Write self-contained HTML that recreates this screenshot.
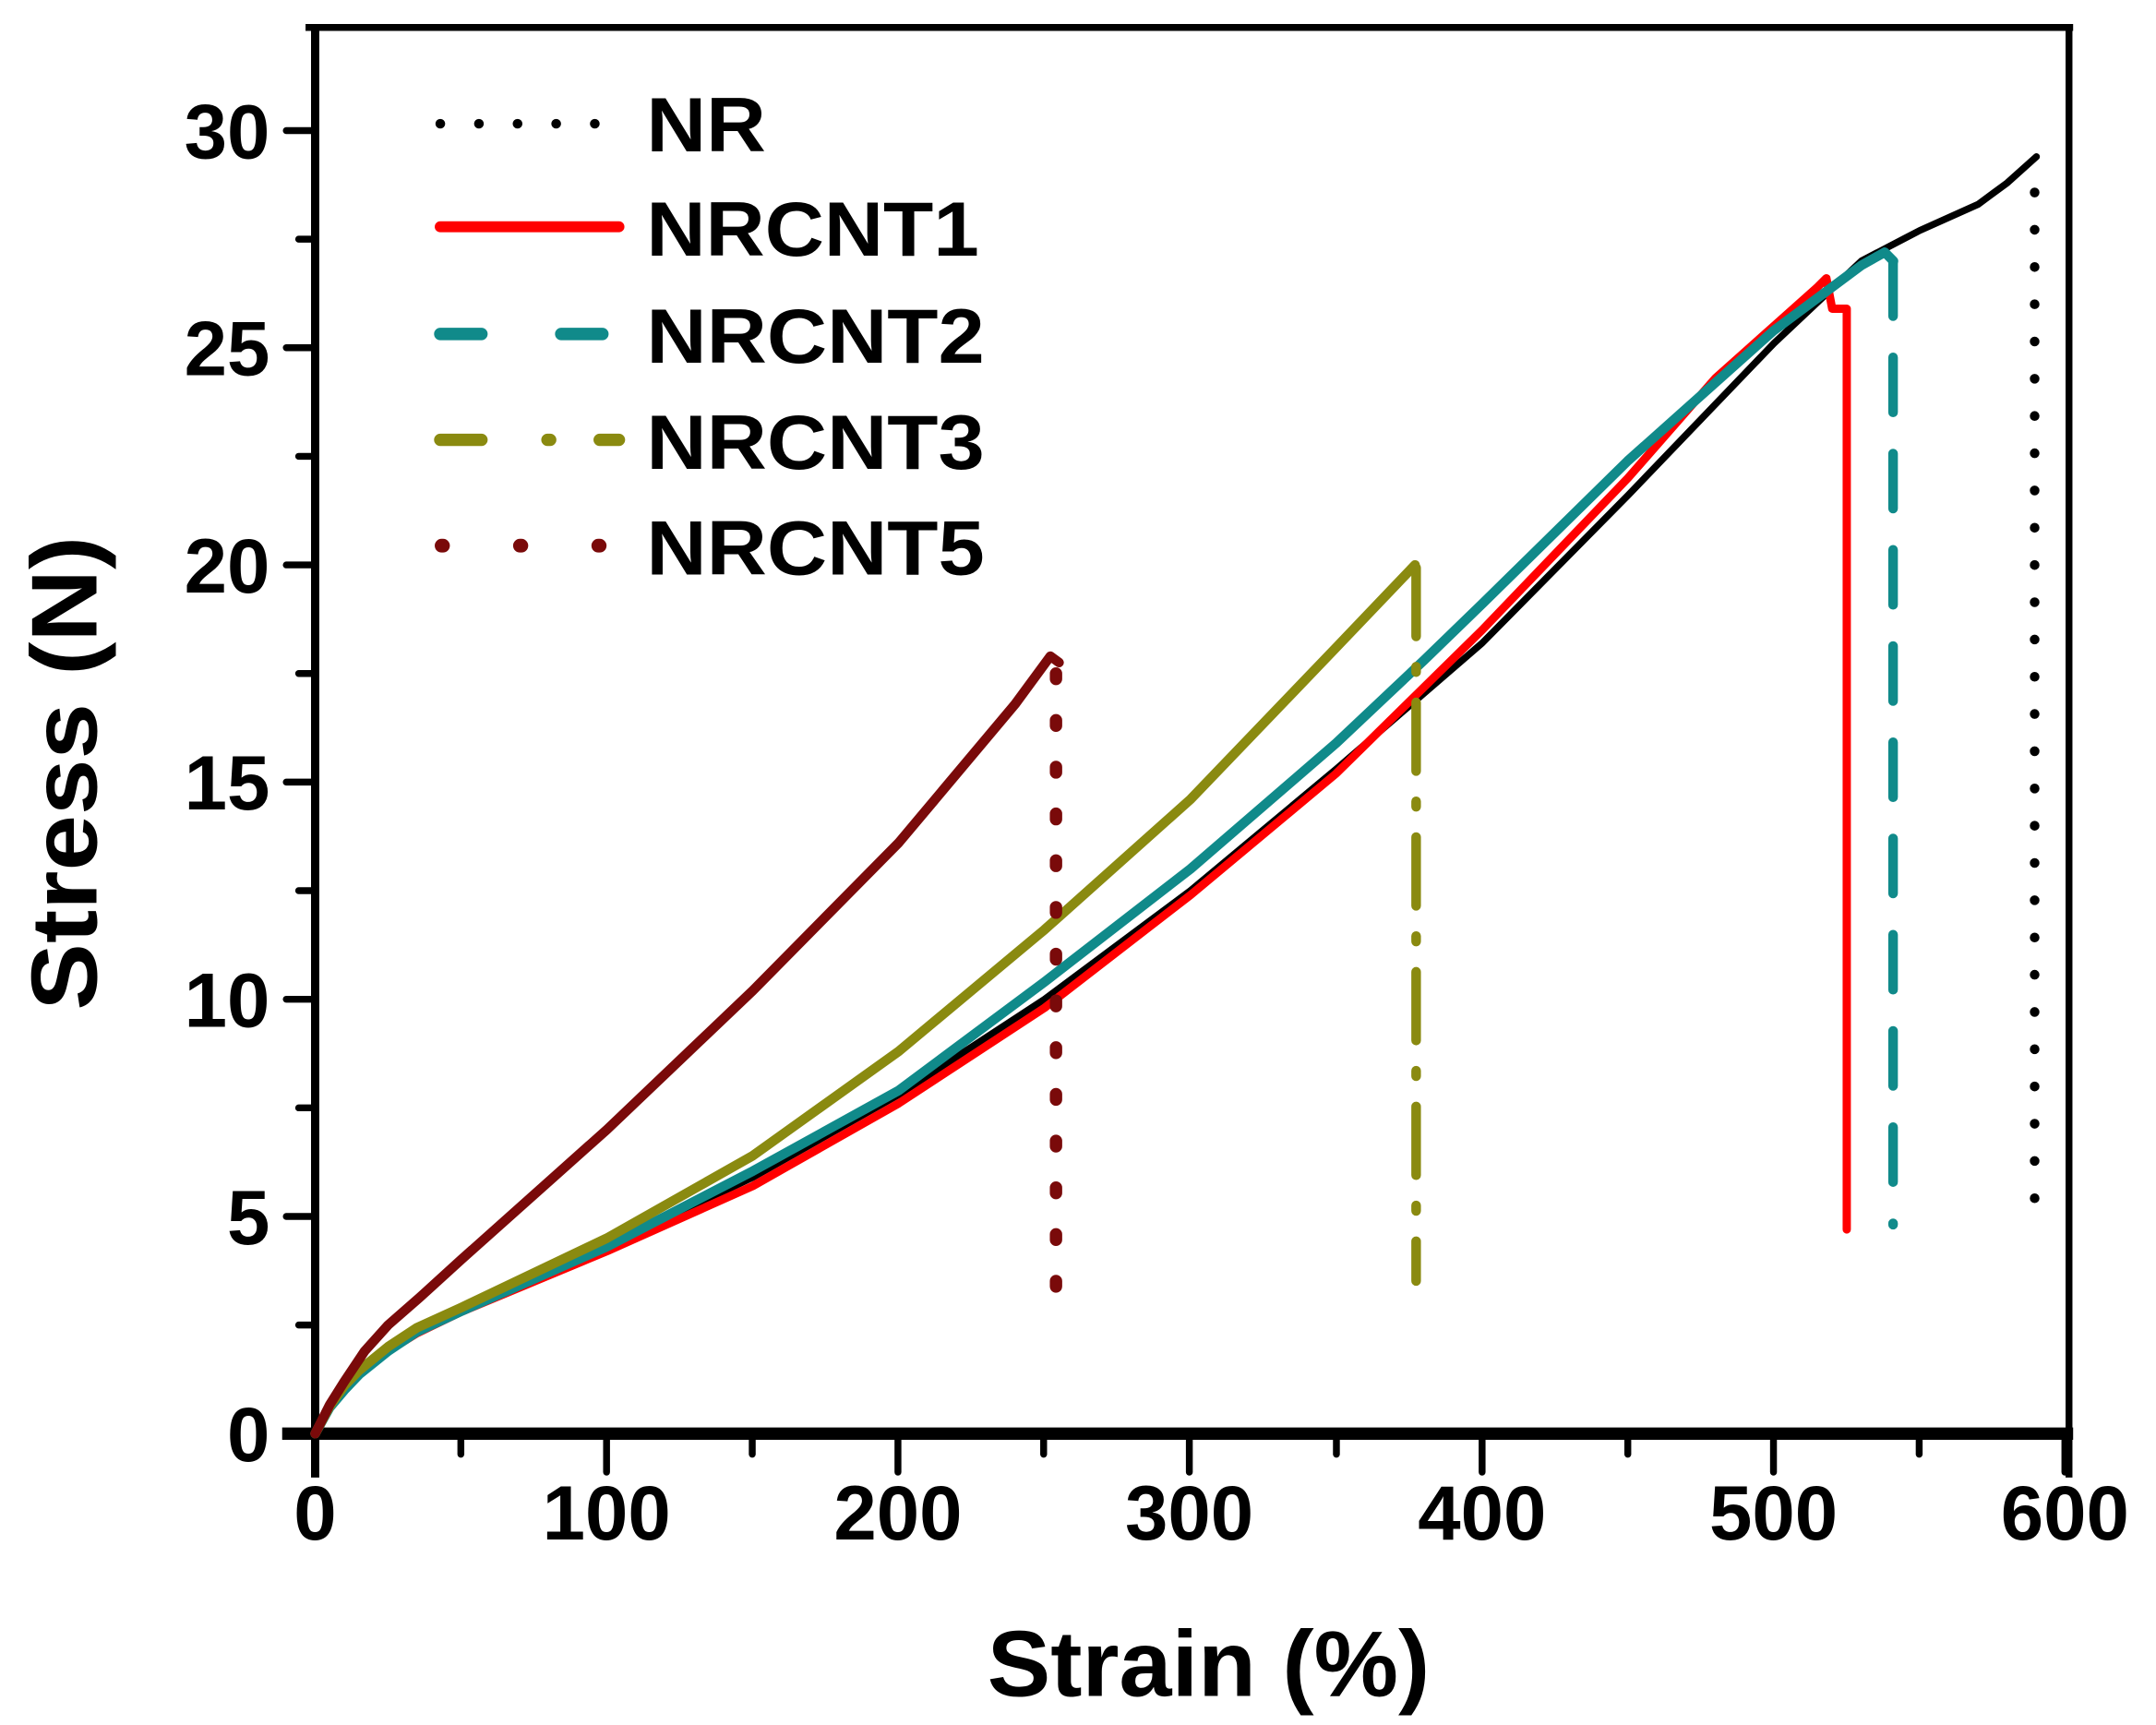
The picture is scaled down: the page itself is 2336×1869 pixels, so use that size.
<!DOCTYPE html>
<html><head><meta charset="utf-8"><style>
html,body{margin:0;padding:0;background:#fff;}
svg{display:block;}
text{font-family:"Liberation Sans",Arial,sans-serif;font-weight:bold;fill:#000;}
</style></head><body>
<svg width="2336" height="1869" viewBox="0 0 1568 1255" xmlns="http://www.w3.org/2000/svg">
<rect width="1568" height="1255" fill="#fff"/>
<!-- frame -->
<line x1="222" y1="20" x2="1508" y2="20" stroke="#000" stroke-width="5"/>
<line x1="1505" y1="20" x2="1505" y2="1075" stroke="#000" stroke-width="5"/>
<line x1="229" y1="18" x2="229" y2="1075" stroke="#000" stroke-width="6"/>
<line x1="205" y1="1043" x2="1508" y2="1043" stroke="#000" stroke-width="9"/>
<!-- y ticks -->
<g stroke="#000" stroke-width="5" stroke-linecap="round">
<line x1="208" y1="1043" x2="229" y2="1043"/><line x1="208" y1="885" x2="229" y2="885"/>
<line x1="208" y1="727" x2="229" y2="727"/><line x1="208" y1="569" x2="229" y2="569"/>
<line x1="208" y1="411" x2="229" y2="411"/><line x1="208" y1="253" x2="229" y2="253"/>
<line x1="208" y1="95" x2="229" y2="95"/>
<line x1="217" y1="964" x2="229" y2="964"/><line x1="217" y1="806" x2="229" y2="806"/>
<line x1="217" y1="648" x2="229" y2="648"/><line x1="217" y1="490" x2="229" y2="490"/>
<line x1="217" y1="332" x2="229" y2="332"/><line x1="217" y1="174" x2="229" y2="174"/>
<!-- x ticks -->
<line x1="229" y1="1043" x2="229" y2="1071"/><line x1="441" y1="1043" x2="441" y2="1071"/>
<line x1="653" y1="1043" x2="653" y2="1071"/><line x1="865" y1="1043" x2="865" y2="1071"/>
<line x1="1078" y1="1043" x2="1078" y2="1071"/><line x1="1290" y1="1043" x2="1290" y2="1071"/>
<line x1="1502" y1="1043" x2="1502" y2="1071"/>
<line x1="335" y1="1043" x2="335" y2="1058"/><line x1="547" y1="1043" x2="547" y2="1058"/>
<line x1="759" y1="1043" x2="759" y2="1058"/><line x1="972" y1="1043" x2="972" y2="1058"/>
<line x1="1184" y1="1043" x2="1184" y2="1058"/><line x1="1396" y1="1043" x2="1396" y2="1058"/>
</g>
<!-- tick labels -->
<g font-size="56" text-anchor="end">
<text x="196" y="1063">0</text><text x="196" y="905">5</text><text x="196" y="747">10</text>
<text x="196" y="589">15</text><text x="196" y="431">20</text><text x="196" y="273">25</text>
<text x="196" y="115">30</text>
</g>
<g font-size="56" text-anchor="middle">
<text x="229" y="1120">0</text><text x="441" y="1120">100</text><text x="653" y="1120">200</text>
<text x="865" y="1120">300</text><text x="1078" y="1120">400</text><text x="1290" y="1120">500</text>
<text x="1502" y="1120">600</text>
</g>
<text x="718" y="1234" font-size="68" textLength="322" lengthAdjust="spacingAndGlyphs">Strain (%)</text>
<text transform="translate(70,735) rotate(-90)" font-size="68" textLength="345" lengthAdjust="spacingAndGlyphs">Stress (N)</text>

<!-- curves -->
<g fill="none" stroke-linejoin="round" stroke-linecap="round">
<polyline stroke="#000" stroke-width="5" points="229,1043 239.6,1024 250.2,1011.4 261,1000 282.1,983 303,970 335.1,954.5 388.2,929.2 441.3,907.1 547.4,856.6 653.5,796.5 759.6,727 865.8,648 971.9,559.5 1078,467.9 1184.1,360.4 1290.3,249.8 1354,189.8 1396.4,167.7 1438.8,148.7 1460.1,133 1481.3,114"/>
<line x1="1480" y1="140" x2="1480" y2="876" stroke="#000" stroke-width="7" stroke-dasharray="0.1 27"/>

<polyline stroke="#ff0000" stroke-width="6" points="229,1043 239.6,1024 250.2,1011.4 261,1000 282.1,983 303,970 335.1,954.5 441.3,910.3 547.4,862.9 653.5,802.8 759.6,733.3 865.8,651.2 971.9,562.7 1078,458.4 1184.1,347.8 1247.8,275.1 1290.3,237.2 1322.1,208.8 1328.5,202.4 1332.7,224.6 1343.3,224.6 1343.3,894.5"/>

<polyline stroke="#108a8a" stroke-width="7" points="229,1043 239.6,1024 250.2,1011.4 261,1000 282.1,983 303,969 335.1,954 441.3,907 547.4,852 653.5,793.4 759.6,714.4 865.8,632.2 971.9,540.6 1035.6,480.5 1078,439.4 1184.1,335.2 1290.3,240.4 1354,193 1370.9,183.5 1377.3,190"/>
<line x1="1377" y1="190" x2="1377" y2="891" stroke="#108a8a" stroke-width="7" stroke-dasharray="40 30"/>

<polyline stroke="#8a8a10" stroke-width="7" points="229,1043 239.6,1023 250.2,1008.2 261,997 282.1,979.8 303,966 335.1,951.4 441.3,900.8 547.4,840.8 653.5,764.9 759.6,676.4 865.8,581.6 971.9,471 1029.2,411"/>
<line x1="1030" y1="413" x2="1030" y2="932" stroke="#8a8a10" stroke-width="7" stroke-dasharray="50 22 4 22"/>

<polyline stroke="#7a0a0a" stroke-width="7" points="229,1043 239.6,1022 250.2,1005.1 265,983 282.1,964 305,944 335.1,916.6 441.3,821.8 547.4,720.7 653.5,613.2 738.4,512.1 763.9,477.4 770.2,482"/>
<line x1="768" y1="490" x2="768" y2="948" stroke="#7a0a0a" stroke-width="9" stroke-dasharray="4 30"/>
</g>

<!-- legend -->
<g stroke-linecap="round" fill="none">
<line x1="320" y1="90" x2="452" y2="90" stroke="#000" stroke-width="7" stroke-dasharray="0.1 28"/>
<line x1="320" y1="165" x2="450" y2="165" stroke="#ff0000" stroke-width="8"/>
<line x1="320" y1="243" x2="450" y2="243" stroke="#108a8a" stroke-width="9" stroke-dasharray="30 58"/>
<line x1="320" y1="320" x2="450" y2="320" stroke="#8a8a10" stroke-width="9" stroke-dasharray="30 48 2 36"/>
<line x1="321" y1="397" x2="450" y2="397" stroke="#7a0a0a" stroke-width="10" stroke-dasharray="1 56"/>
</g>
<g font-size="56">
<text x="470" y="110" textLength="87" lengthAdjust="spacingAndGlyphs">NR</text>
<text x="470" y="186" textLength="242" lengthAdjust="spacingAndGlyphs">NRCNT1</text>
<text x="470" y="264" textLength="246" lengthAdjust="spacingAndGlyphs">NRCNT2</text>
<text x="470" y="341" textLength="246" lengthAdjust="spacingAndGlyphs">NRCNT3</text>
<text x="470" y="418" textLength="246" lengthAdjust="spacingAndGlyphs">NRCNT5</text>
</g>
</svg>
</body></html>
